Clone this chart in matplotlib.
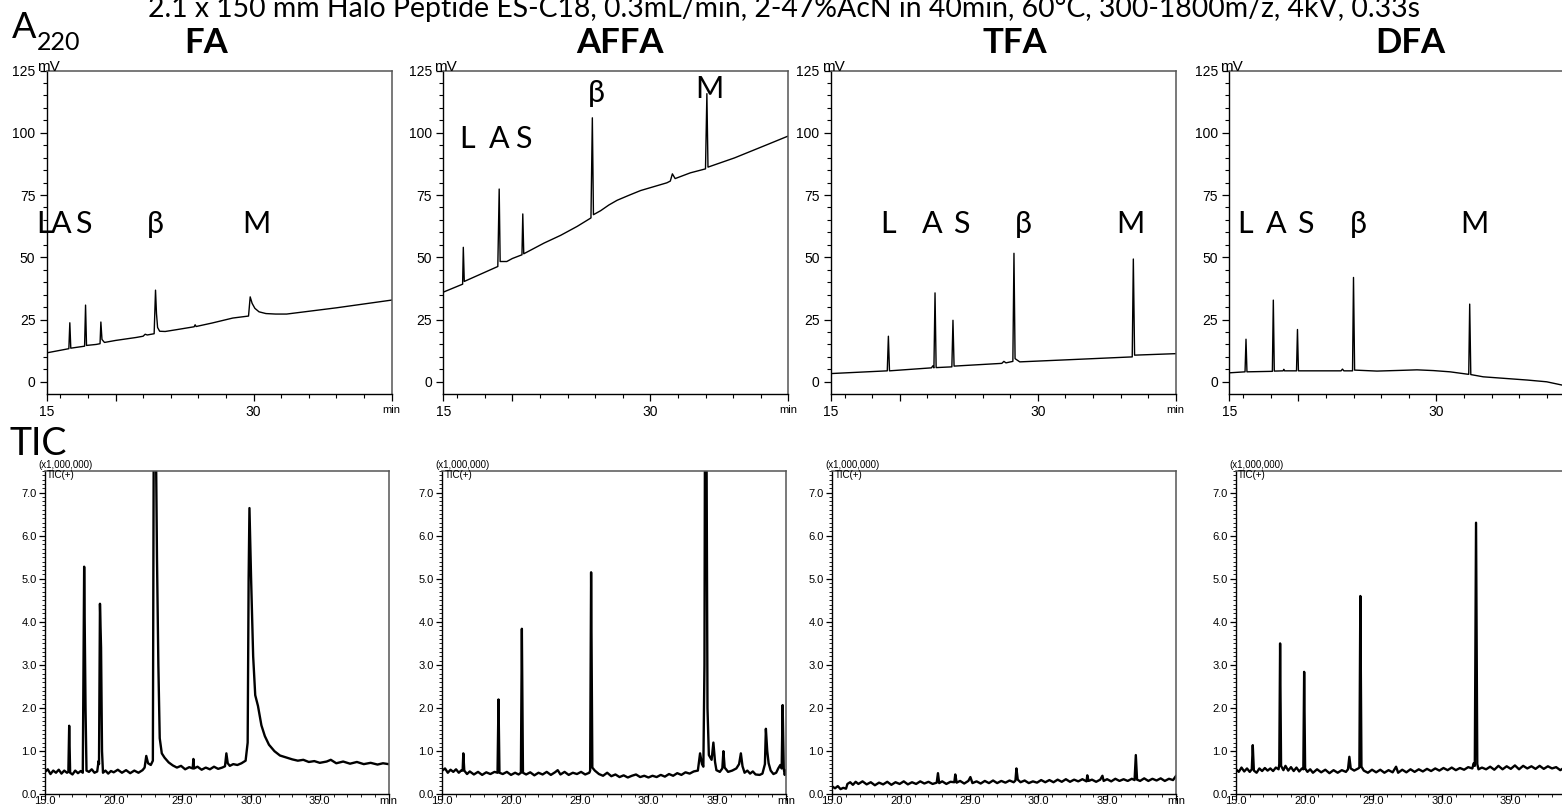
"""Four-additive comparison: UV (A220) and TIC chromatograms, FA / AFFA / TFA / DFA."""

import matplotlib

matplotlib.use("Agg")
import matplotlib.pyplot as plt
from matplotlib.ticker import FixedLocator, MultipleLocator

W, H = 1562, 808

TITLE = "2.1 x 150 mm Halo Peptide ES-C18, 0.3mL/min, 2-47%AcN in 40min, 60°C, 300-1800m/z, 4kV, 0.33s"
ADDITIVES = ["FA", "AFFA", "TFA", "DFA"]

# ---- UV 220 nm traces (min, mV) ----
FA_UV_T = [15.0, 16.62, 16.69, 16.76, 17.76, 17.83, 17.90, 18.6, 18.88, 18.94, 19.02, 19.2,
           20.0, 21.5, 22.0, 22.15, 22.3, 22.8, 22.9, 22.97, 23.05, 23.2, 23.6, 24.5, 25.7,
           25.77, 25.84, 27.0, 28.5, 29.64, 29.76, 29.9, 30.1, 30.4, 30.9, 31.6, 32.4, 36.0, 40.0]
FA_UV_Y = [11.6, 13.3, 23.7, 13.5, 14.3, 30.8, 14.6, 15.0, 15.3, 24.0, 17.0, 15.8,
           16.6, 17.8, 18.3, 19.1, 18.8, 19.3, 36.8, 27.4, 21.8, 20.3, 20.2, 21.0, 22.1,
           22.9, 22.2, 23.6, 25.6, 26.4, 34.1, 31.5, 29.5, 28.1, 27.4, 27.2, 27.2, 29.7, 32.8]

AFFA_UV_T = [15.0, 16.40, 16.45, 16.52, 18.95, 19.05, 19.12, 19.6, 20.0, 20.70, 20.76, 20.83,
             22.3, 23.5, 24.7, 25.7, 25.8, 25.88, 26.4, 27.0, 27.6, 28.5, 29.3, 31.2, 31.45,
             31.6, 31.8, 32.9, 34.0, 34.1, 34.18, 36.1, 38.5, 40.0]
AFFA_UV_Y = [36.0, 39.2, 54.0, 40.3, 46.3, 77.4, 48.3, 48.3, 49.5, 51.0, 67.4, 51.4,
             55.7, 58.8, 62.4, 65.8, 106.0, 67.1, 68.7, 71.0, 72.9, 75.0, 76.8, 79.9, 80.6,
             83.5, 81.6, 83.9, 85.5, 115.7, 86.2, 89.9, 95.3, 98.7]

TFA_UV_T = [15.0, 19.1, 19.18, 19.26, 22.3, 22.4, 22.48, 22.56, 22.64, 23.78, 23.86, 23.94,
            27.4, 27.55, 27.7, 28.2, 28.28, 28.36, 28.7, 32.0, 36.85, 36.93, 37.02, 40.0]
TFA_UV_Y = [3.3, 4.4, 18.3, 4.4, 5.6, 6.4, 5.6, 35.7, 5.7, 6.0, 24.7, 6.3,
            7.4, 8.2, 7.6, 8.2, 51.6, 9.3, 8.0, 8.8, 10.0, 49.3, 10.7, 11.3]

DFA_UV_T = [15.0, 16.14, 16.21, 16.28, 18.12, 18.19, 18.26, 18.9, 18.95, 19.0, 19.87, 19.94,
            20.01, 23.1, 23.2, 23.3, 23.93, 24.0, 24.08, 25.7, 27.5, 28.6, 29.8, 31.0, 32.2,
            32.35, 32.42, 32.5, 33.4, 36.6, 38.0, 39.1, 40.0]
DFA_UV_Y = [3.6, 4.0, 17.1, 4.0, 4.2, 32.8, 4.3, 4.4, 5.0, 4.4, 4.4, 21.0,
            4.4, 4.4, 5.1, 4.4, 4.4, 41.9, 4.7, 4.3, 4.6, 4.8, 4.5, 4.0, 3.1,
            3.0, 31.2, 2.9, 2.0, 0.7, 0.0, -1.3, -1.8]

# ---- TIC traces (min, x1,000,000 counts) ----
FA_TIC_T = [15.0, 15.2, 15.4, 15.6, 15.8, 16.0, 16.2, 16.4, 16.6, 16.7, 16.76, 16.83, 17.0, 17.2,
            17.4, 17.6, 17.75, 17.85, 17.95, 18.02, 18.2, 18.4, 18.6, 18.8, 18.9, 18.93, 19.0,
            19.08, 19.15, 19.22, 19.4, 19.6, 19.8, 20.0, 20.3, 20.6, 20.9, 21.2, 21.5, 21.8,
            22.1, 22.25, 22.37, 22.5, 22.7, 22.85, 22.92, 23.05, 23.15, 23.25, 23.35, 23.5,
            23.7, 24.0, 24.3, 24.6, 24.9, 25.2, 25.5, 25.75, 25.8, 25.85, 26.1, 26.4, 26.7,
            27.0, 27.3, 27.6, 27.9, 28.1, 28.2, 28.3, 28.45, 28.7, 29.0, 29.3, 29.6, 29.75,
            29.82, 29.88, 30.0, 30.15, 30.3, 30.5, 30.75, 31.0, 31.3, 31.7, 32.1, 32.6, 33.0,
            33.4, 33.8, 34.2, 34.6, 35.0, 35.5, 35.8, 36.2, 36.7, 37.2, 37.7, 38.2, 38.7,
            39.2, 39.6, 40.0]
FA_TIC_Y = [0.52, 0.58, 0.47, 0.55, 0.50, 0.57, 0.48, 0.55, 0.50, 0.52, 1.59, 0.50, 0.46, 0.55,
            0.49, 0.54, 0.50, 5.28, 2.00, 0.55, 0.52, 0.58, 0.50, 0.53, 0.77, 0.70, 4.42,
            3.40, 1.00, 0.50, 0.55, 0.48, 0.54, 0.51, 0.57, 0.50, 0.56, 0.49, 0.55, 0.50,
            0.56, 0.62, 0.89, 0.72, 0.68, 0.78, 9.00, 9.00, 5.50, 3.00, 1.30, 0.95,
            0.85, 0.74, 0.67, 0.62, 0.66, 0.58, 0.63, 0.60, 0.82, 0.60, 0.64, 0.57, 0.62,
            0.58, 0.64, 0.59, 0.62, 0.65, 0.95, 0.72, 0.66, 0.70, 0.68, 0.72, 0.78, 1.20,
            5.00, 6.64, 5.00, 3.20, 2.30, 2.05, 1.60, 1.35, 1.15, 1.00, 0.90, 0.85, 0.81,
            0.78, 0.80, 0.75, 0.77, 0.73, 0.76, 0.80, 0.72, 0.76, 0.71, 0.75, 0.70, 0.73,
            0.69, 0.72, 0.70]

AFFA_TIC_T = [15.0, 15.2, 15.4, 15.6, 15.8, 16.0, 16.2, 16.4, 16.48, 16.53, 16.6, 16.8, 17.0,
              17.3, 17.6, 17.9, 18.2, 18.5, 18.8, 19.02, 19.09, 19.16, 19.4, 19.7, 20.0, 20.3,
              20.55, 20.72, 20.79, 20.87, 21.1, 21.4, 21.7, 22.0, 22.3, 22.6, 22.9, 23.2, 23.4,
              23.6, 23.9, 24.2, 24.5, 24.8, 25.1, 25.4, 25.7, 25.76, 25.83, 25.92, 26.1, 26.4,
              26.7, 27.0, 27.3, 27.6, 27.9, 28.2, 28.5, 28.8, 29.1, 29.4, 29.7, 30.0, 30.3,
              30.6, 30.9, 31.2, 31.5, 31.8, 32.1, 32.4, 32.7, 33.0, 33.3, 33.6, 33.76, 33.9,
              34.0, 34.08, 34.12, 34.22, 34.3, 34.4, 34.6, 34.73, 34.85, 34.95, 35.2, 35.38,
              35.46, 35.55, 35.8, 36.1, 36.4, 36.6, 36.73, 36.85, 37.0, 37.2, 37.4, 37.6, 37.8,
              38.1, 38.3, 38.48, 38.55, 38.65, 38.75, 38.9, 39.1, 39.3, 39.45, 39.6, 39.7,
              39.77, 39.85, 39.92, 40.0]
AFFA_TIC_Y = [0.55, 0.60, 0.50, 0.57, 0.52, 0.58, 0.50, 0.56, 0.55, 0.95, 0.55, 0.47, 0.53,
              0.46, 0.52, 0.45, 0.51, 0.47, 0.52, 0.50, 2.20, 0.50, 0.47, 0.52, 0.45, 0.50,
              0.46, 0.50, 3.84, 0.50, 0.46, 0.51, 0.44, 0.50, 0.46, 0.52, 0.45, 0.51, 0.56,
              0.46, 0.52, 0.45, 0.50, 0.47, 0.52, 0.46, 0.50, 0.55, 5.15, 0.62, 0.55, 0.47,
              0.43, 0.50, 0.42, 0.46, 0.40, 0.44, 0.39, 0.43, 0.46, 0.40, 0.43, 0.39, 0.43,
              0.40, 0.45, 0.41, 0.47, 0.43, 0.49, 0.45, 0.51, 0.48, 0.53, 0.55, 0.95, 0.70,
              0.64, 3.00, 9.00, 9.00, 2.00, 0.91, 0.80, 1.20, 0.75, 0.56, 0.52, 0.60,
              1.00, 0.62, 0.52, 0.55, 0.60, 0.70, 0.95, 0.65, 0.50, 0.55, 0.48, 0.53, 0.46,
              0.45, 0.48, 0.70, 1.52, 1.00, 0.72, 0.55, 0.47, 0.50, 0.60, 0.68, 0.60,
              2.07, 0.60, 0.45, 0.55]

TFA_TIC_T = [15.0, 15.2, 15.4, 15.6, 15.8, 16.0, 16.1, 16.3, 16.5, 16.7, 16.9, 17.2, 17.5, 17.8,
             18.1, 18.4, 18.7, 19.0, 19.3, 19.6, 19.9, 20.2, 20.5, 20.8, 21.1, 21.4, 21.7, 22.0,
             22.3, 22.6, 22.69, 22.78, 23.0, 23.3, 23.6, 23.88, 23.95, 24.05, 24.3, 24.6, 24.9,
             25.05, 25.2, 25.5, 25.8, 26.1, 26.4, 26.7, 27.0, 27.3, 27.6, 27.9, 28.2, 28.33,
             28.4, 28.5, 28.7, 29.0, 29.3, 29.6, 29.9, 30.2, 30.5, 30.8, 31.1, 31.4, 31.7, 32.0,
             32.3, 32.6, 32.9, 33.2, 33.5, 33.56, 33.65, 33.9, 34.2, 34.5, 34.66, 34.75, 35.0,
             35.3, 35.6, 35.9, 36.2, 36.5, 36.8, 37.0, 37.09, 37.18, 37.4, 37.7, 38.0, 38.3,
             38.6, 38.9, 39.2, 39.5, 39.8, 40.0]
TFA_TIC_Y = [0.18, 0.14, 0.19, 0.12, 0.15, 0.13, 0.24, 0.28, 0.22, 0.29, 0.24, 0.30, 0.23, 0.28,
             0.21, 0.27, 0.23, 0.29, 0.22, 0.28, 0.24, 0.30, 0.23, 0.28, 0.24, 0.30, 0.25, 0.29,
             0.24, 0.27, 0.49, 0.26, 0.30, 0.24, 0.29, 0.28, 0.46, 0.27, 0.31, 0.25, 0.31,
             0.40, 0.26, 0.30, 0.25, 0.31, 0.26, 0.32, 0.26, 0.31, 0.27, 0.32, 0.28, 0.32,
             0.60, 0.34, 0.28, 0.32, 0.26, 0.30, 0.27, 0.33, 0.28, 0.33, 0.28, 0.34, 0.29, 0.35,
             0.29, 0.34, 0.30, 0.35, 0.30, 0.44, 0.31, 0.34, 0.29, 0.34, 0.43, 0.31, 0.35,
             0.30, 0.36, 0.31, 0.35, 0.31, 0.36, 0.33, 0.91, 0.34, 0.31, 0.37, 0.31, 0.36,
             0.32, 0.37, 0.31, 0.36, 0.33, 0.42]

DFA_TIC_T = [15.0, 15.2, 15.4, 15.6, 15.8, 16.0, 16.15, 16.22, 16.3, 16.5, 16.7, 16.9, 17.1,
             17.3, 17.5, 17.7, 17.9, 18.1, 18.15, 18.21, 18.28, 18.45, 18.6, 18.8, 19.0, 19.2,
             19.4, 19.6, 19.8, 19.9, 19.96, 20.03, 20.2, 20.4, 20.6, 20.9, 21.2, 21.5, 21.8,
             22.1, 22.4, 22.7, 23.0, 23.15, 23.25, 23.35, 23.6, 23.9, 23.98, 24.05, 24.13,
             24.3, 24.6, 24.9, 25.2, 25.5, 25.8, 26.1, 26.4, 26.65, 26.8, 27.1, 27.4, 27.7,
             28.0, 28.3, 28.6, 28.9, 29.2, 29.5, 29.8, 30.1, 30.4, 30.7, 31.0, 31.3, 31.6,
             31.9, 32.2, 32.3, 32.38, 32.47, 32.56, 32.65, 32.9, 33.2, 33.5, 33.8, 34.1, 34.4,
             34.7, 35.0, 35.3, 35.6, 35.9, 36.2, 36.5, 36.8, 37.1, 37.4, 37.7, 38.0, 38.3,
             38.6, 38.9, 39.2, 39.5, 40.0]
DFA_TIC_Y = [0.58, 0.52, 0.62, 0.53, 0.60, 0.52, 0.58, 1.14, 0.55, 0.50, 0.60, 0.54, 0.61,
             0.55, 0.60, 0.54, 0.62, 0.58, 0.70, 3.50, 0.66, 0.56, 0.66, 0.55, 0.63, 0.54,
             0.62, 0.53, 0.60, 0.58, 2.84, 0.60, 0.52, 0.58, 0.50, 0.58, 0.51, 0.57, 0.49,
             0.56, 0.50, 0.56, 0.52, 0.58, 0.87, 0.60, 0.55, 0.60, 0.62, 4.60, 0.64,
             0.55, 0.50, 0.57, 0.51, 0.57, 0.50, 0.56, 0.51, 0.64, 0.50, 0.57, 0.51, 0.58,
             0.52, 0.58, 0.53, 0.59, 0.54, 0.60, 0.55, 0.61, 0.56, 0.62, 0.56, 0.61, 0.57,
             0.63, 0.60, 0.72, 0.66, 6.30, 0.70, 0.58, 0.62, 0.58, 0.64, 0.57, 0.66, 0.58,
             0.65, 0.59, 0.67, 0.58, 0.66, 0.60, 0.65, 0.59, 0.66, 0.59, 0.65, 0.60, 0.63,
             0.56, 0.62, 0.57, 0.62, 0.58]

UV_TRACES = [(FA_UV_T, FA_UV_Y), (AFFA_UV_T, AFFA_UV_Y), (TFA_UV_T, TFA_UV_Y), (DFA_UV_T, DFA_UV_Y)]
TIC_TRACES = [(FA_TIC_T, FA_TIC_Y), (AFFA_TIC_T, AFFA_TIC_Y), (TFA_TIC_T, TFA_TIC_Y),
              (DFA_TIC_T, DFA_TIC_Y)]

# peak labels: (text, left x px, baseline y px)
PEAK_LABELS = [
    [("L", 36, 233), ("A", 51, 233), ("S", 75, 233), ("β", 147, 233), ("M", 242, 233)],
    [("L", 459, 148), ("A", 489, 148), ("S", 515, 148), ("β", 588, 102), ("M", 695, 98)],
    [("L", 880, 233), ("A", 922, 233), ("S", 953, 233), ("β", 1015, 233), ("M", 1116, 233)],
    [("L", 1237, 233), ("A", 1266, 233), ("S", 1297, 233), ("β", 1350, 233), ("M", 1460, 233)],
]
HEADER_X = [206, 620, 1015, 1410]

UV_LEFT = [46.5, 443.3, 830.7, 1229.3]
TIC_LEFT = [45.0, 442.3, 832.3, 1236.0]

LABEL_FONT = ["Lato", "DejaVu Sans"]
TICK_FONT = "Liberation Sans"


def px_axes(fig, left, top, right, bottom):
    return fig.add_axes([left / W, 1 - bottom / H, (right - left) / W, (bottom - top) / H])


def fig_text(fig, x, y, s, **kw):
    return fig.text(x / W, 1 - y / H, s, **kw)


def style_frame(ax):
    for side in ("left", "bottom"):
        ax.spines[side].set_color("black")
        ax.spines[side].set_linewidth(1.0)
    for side in ("top", "right"):
        ax.spines[side].set_color("#555555")
        ax.spines[side].set_linewidth(1.1)


fig = plt.figure(figsize=(W / 100, H / 100), dpi=100)

# ---- UV row ----
for i, (t, y) in enumerate(UV_TRACES):
    left = UV_LEFT[i]
    ax = px_axes(fig, left, 70.5, left + 345, 393.5)
    ax.plot(t, y, color="black", linewidth=1.0)
    ax.set_xlim(15, 40)
    ax.set_ylim(-4.7, 125)
    style_frame(ax)
    ax.yaxis.set_major_locator(FixedLocator([0, 25, 50, 75, 100, 125]))
    ax.yaxis.set_minor_locator(MultipleLocator(5))
    ax.set_yticklabels(["0", "25", "50", "75", "100", "125"])
    ax.xaxis.set_major_locator(FixedLocator([15, 20, 30, 40]))
    ax.xaxis.set_minor_locator(FixedLocator(list(range(16, 40, 2))))
    ax.set_xticklabels(["15", "", "30", "min"])
    ax.tick_params(which="major", direction="out", length=5, width=0.9, pad=3,
                   labelsize=10)
    ax.tick_params(which="minor", direction="out", length=2.6, width=0.8)
    for lab in ax.get_xticklabels() + ax.get_yticklabels():
        lab.set_fontfamily(TICK_FONT)
    ax.get_xticklabels()[-1].set_fontsize(8)
    fig_text(fig, left - 9, 71, "mV", fontsize=11, family=TICK_FONT, va="baseline")

    for s, x, yb in PEAK_LABELS[i]:
        fig_text(fig, x, yb, s, fontsize=22, family=LABEL_FONT, va="baseline")
    fig_text(fig, HEADER_X[i], 53, ADDITIVES[i], fontsize=25, family=LABEL_FONT,
             weight="bold", ha="center", va="baseline")

# ---- TIC row ----
for i, (t, y) in enumerate(TIC_TRACES):
    left = TIC_LEFT[i]
    ax = px_axes(fig, left, 471, left + 343.5, 794.3)
    ax.plot(t, y, color="black", linewidth=1.7)
    ax.set_xlim(15, 40)
    ax.set_ylim(0, 7.5)
    style_frame(ax)
    ax.yaxis.set_major_locator(FixedLocator([0, 1, 2, 3, 4, 5, 6, 7]))
    ax.yaxis.set_minor_locator(MultipleLocator(0.1))
    ax.set_yticklabels(["0.0", "1.0", "2.0", "3.0", "4.0", "5.0", "6.0", "7.0"])
    ax.xaxis.set_major_locator(FixedLocator([15, 20, 25, 30, 35, 40]))
    ax.xaxis.set_minor_locator(MultipleLocator(1))
    ax.set_xticklabels(["15.0", "20.0", "25.0", "30.0", "35.0", "min"])
    ax.tick_params(which="major", direction="out", length=4.5, width=0.9, pad=1.5,
                   labelsize=8)
    ax.tick_params(axis="x", which="major", pad=-3)
    ax.tick_params(which="minor", direction="out", length=2.2, width=0.6)
    for lab in ax.get_xticklabels() + ax.get_yticklabels():
        lab.set_fontfamily(TICK_FONT)
    fig_text(fig, left - 7, 468, "(x1,000,000)", fontsize=7, family=TICK_FONT,
             va="baseline")
    fig_text(fig, left + 2, 478.5, "TIC(+)", fontsize=7, family=TICK_FONT,
             va="baseline")

# ---- headings ----
fig_text(fig, 784, 17, TITLE, fontsize=20.4, family=LABEL_FONT, ha="center", va="baseline")
fig_text(fig, 12, 38, "A", fontsize=26, family=LABEL_FONT, va="baseline")
fig_text(fig, 37, 50, "220", fontsize=18, family=LABEL_FONT, va="baseline")
fig_text(fig, 10, 455, "TIC", fontsize=27, family=LABEL_FONT, va="baseline")

fig.savefig("out.png", dpi=100)
